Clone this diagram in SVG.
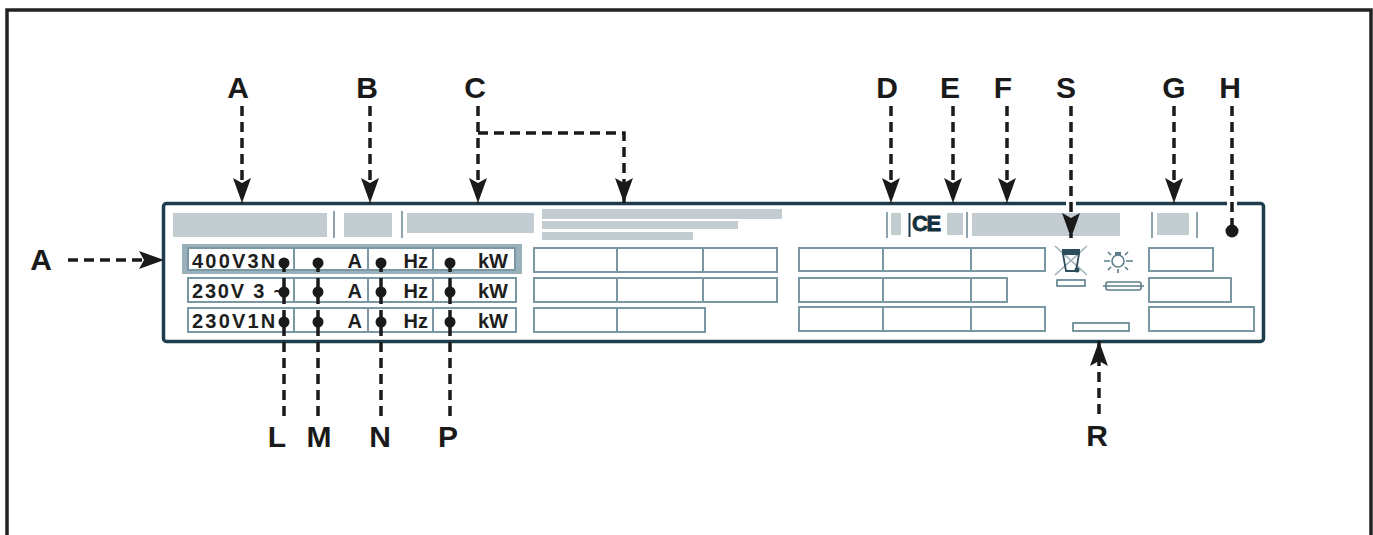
<svg xmlns="http://www.w3.org/2000/svg" width="1373" height="535" viewBox="0 0 1373 535">
<style>
.lbl{font-family:"Liberation Sans",Arial,sans-serif;font-weight:bold;font-size:30px;fill:#1a1a1a;text-anchor:middle}
.cell{font-family:"Liberation Sans",Arial,sans-serif;font-weight:bold;font-size:20px;fill:#1e1e1e}
.end{text-anchor:end}
.grid{fill:#fff;stroke:#7a98a3;stroke-width:2}
.div{stroke:#7a98a3;stroke-width:2}
.bar{fill:#c3ccd0}
.sep{stroke:#8ea3ab;stroke-width:2}
.dash{fill:none;stroke:#1a1a1a;stroke-width:3.5;stroke-dasharray:10 6}
.dot{fill:#1a1a1a}
.halo{stroke:#fff;stroke-width:10}
.ico{fill:none;stroke:#5d7d89;stroke-width:1.6}
</style>
<defs>
<marker id="arr" markerUnits="userSpaceOnUse" markerWidth="30" markerHeight="22" viewBox="-27 -11 29 22" refX="0" refY="0" orient="auto">
<path d="M0,0 L-25,-9 L-20,0 L-25,9 Z" fill="#1a1a1a"/>
</marker>
</defs>
<rect width="1373" height="535" fill="#fff"/>
<g id="frame">
<path d="M7,540 V10 H1371 V540" fill="none" stroke="#222" stroke-width="3.5"/>
</g>
<g id="plate">
<rect x="163.5" y="203.5" width="1100" height="138" rx="3" fill="#fff" stroke="#1d3d4c" stroke-width="3.5"/>
<rect class="bar" x="173" y="213" width="154" height="24"/>
<line class="sep" x1="334" y1="211" x2="334" y2="238"/>
<rect class="bar" x="344" y="213" width="48" height="24"/>
<line class="sep" x1="402" y1="211" x2="402" y2="238"/>
<rect class="bar" x="407" y="213" width="127" height="20"/>
<rect class="bar" x="542" y="209" width="240" height="10"/>
<rect class="bar" x="542" y="221" width="196" height="8"/>
<rect class="bar" x="542" y="232" width="151" height="8"/>
<line class="sep" x1="887" y1="212" x2="887" y2="238"/>
<rect class="bar" x="891" y="213" width="10" height="22"/>
<line x1="909.5" y1="213" x2="909.5" y2="237" stroke="#1d3d4c" stroke-width="2"/>
<text x="912" y="231" font-family="Liberation Sans,Arial,sans-serif" font-weight="bold" font-size="22" fill="#12303e" stroke="#12303e" stroke-width="0.8" letter-spacing="-1.5">CE</text>
<rect class="bar" x="947" y="213" width="16" height="22"/>
<line class="sep" x1="967" y1="212" x2="967" y2="238"/>
<rect class="bar" x="972" y="213" width="148" height="23"/>
<line class="sep" x1="1152" y1="212" x2="1152" y2="238"/>
<rect class="bar" x="1157" y="213" width="32" height="22"/>
<line class="sep" x1="1197" y1="212" x2="1197" y2="238"/>
</g>
<g id="rating-rows">
<rect x="182" y="244" width="340" height="30" fill="#9ab0ba"/>
<rect class="grid" x="188" y="248" width="327" height="22"/>
<line class="div" x1="294" y1="248" x2="294" y2="270"/>
<line class="div" x1="368" y1="248" x2="368" y2="270"/>
<line class="div" x1="433" y1="248" x2="433" y2="270"/>
<text class="cell" x="192" y="268" letter-spacing="2.2">400V3N</text>
<text class="cell end" x="362" y="268">A</text>
<text class="cell end" x="428" y="268">Hz</text>
<text class="cell end" x="508" y="268">kW</text>
<rect class="grid" x="188" y="278" width="328" height="24"/>
<line class="div" x1="294" y1="278" x2="294" y2="302"/>
<line class="div" x1="368" y1="278" x2="368" y2="302"/>
<line class="div" x1="433" y1="278" x2="433" y2="302"/>
<text class="cell" x="192" y="298" letter-spacing="1.8">230V 3 ~</text>
<text class="cell end" x="362" y="298">A</text>
<text class="cell end" x="428" y="298">Hz</text>
<text class="cell end" x="508" y="298">kW</text>
<rect class="grid" x="188" y="308" width="328" height="24"/>
<line class="div" x1="294" y1="308" x2="294" y2="332"/>
<line class="div" x1="368" y1="308" x2="368" y2="332"/>
<line class="div" x1="433" y1="308" x2="433" y2="332"/>
<text class="cell" x="192" y="328" letter-spacing="2.2">230V1N</text>
<text class="cell end" x="362" y="328">A</text>
<text class="cell end" x="428" y="328">Hz</text>
<text class="cell end" x="508" y="328">kW</text>
</g>
<g id="boxes-middle">
<rect class="grid" x="534" y="248" width="243" height="24"/>
<line class="div" x1="617" y1="248" x2="617" y2="272"/>
<line class="div" x1="703" y1="248" x2="703" y2="272"/>
<rect class="grid" x="534" y="278" width="243" height="24"/>
<line class="div" x1="617" y1="278" x2="617" y2="302"/>
<line class="div" x1="703" y1="278" x2="703" y2="302"/>
<rect class="grid" x="534" y="308" width="171" height="24"/>
<line class="div" x1="617" y1="308" x2="617" y2="332"/>
</g>
<g id="boxes-right">
<rect class="grid" x="799" y="248" width="246" height="23"/>
<line class="div" x1="883" y1="248" x2="883" y2="271"/>
<line class="div" x1="971" y1="248" x2="971" y2="271"/>
<rect class="grid" x="799" y="278" width="208" height="24"/>
<line class="div" x1="883" y1="278" x2="883" y2="302"/>
<line class="div" x1="971" y1="278" x2="971" y2="302"/>
<rect class="grid" x="799" y="307" width="246" height="24"/>
<line class="div" x1="883" y1="307" x2="883" y2="331"/>
<line class="div" x1="971" y1="307" x2="971" y2="331"/>
<rect class="grid" x="1149" y="248" width="64" height="23"/>
<rect class="grid" x="1149" y="278" width="82" height="24"/>
<rect class="grid" x="1149" y="307" width="105" height="24"/>
</g>
<g id="icons">
<line x1="1055" y1="246" x2="1087" y2="275" stroke="#9fb3bb" stroke-width="1.6"/>
<line x1="1087" y1="246" x2="1055" y2="275" stroke="#9fb3bb" stroke-width="1.6"/>
<rect x="1062" y="249" width="18" height="4" fill="#2d4d5b"/>
<path d="M1063,254 L1079,254 L1076,271 L1066,271 Z" fill="none" stroke="#2d4d5b" stroke-width="1.8"/>
<circle cx="1077" cy="270" r="2.5" fill="#2d4d5b"/>
<rect class="ico" x="1057" y="280" width="28" height="6"/>
<circle class="ico" cx="1118" cy="261" r="6"/>
<rect x="1115" y="252" width="6" height="3" fill="#5d7d89"/>
<path class="ico" d="M1104,261 H1110 M1126,261 H1133 M1108,252 L1111,255 M1128,252 L1125,255 M1108,270 L1111,267 M1128,270 L1125,267 M1118,269 V273"/>
<rect class="ico" x="1106" y="282" width="35" height="8" rx="2"/>
<line class="ico" x1="1103" y1="286" x2="1144" y2="286"/>
<rect class="ico" x="1073" y="323" width="56" height="8"/>
</g>
<g id="labels">
<text class="lbl" x="238" y="98">A</text>
<text class="lbl" x="367" y="98">B</text>
<text class="lbl" x="475" y="98">C</text>
<text class="lbl" x="887" y="98">D</text>
<text class="lbl" x="950" y="98">E</text>
<text class="lbl" x="1003" y="98">F</text>
<text class="lbl" x="1066" y="98">S</text>
<text class="lbl" x="1174" y="98">G</text>
<text class="lbl" x="1230" y="98">H</text>
<text class="lbl" x="41" y="270">A</text>
<text class="lbl" x="277" y="447">L</text>
<text class="lbl" x="319" y="447">M</text>
<text class="lbl" x="380" y="447">N</text>
<text class="lbl" x="448" y="447">P</text>
<text class="lbl" x="1097" y="446">R</text>
</g>
<g id="connectors">
<line class="halo" x1="1071" y1="199" x2="1071" y2="208"/>
<line class="halo" x1="1232" y1="199" x2="1232" y2="208"/>
<line class="dash" x1="242" y1="106" x2="242" y2="203" marker-end="url(#arr)"/>
<line class="dash" x1="370" y1="106" x2="370" y2="203" marker-end="url(#arr)"/>
<line class="dash" x1="478" y1="106" x2="478" y2="203" marker-end="url(#arr)"/>
<path class="dash" d="M478,133 H624 V203" marker-end="url(#arr)"/>
<line class="dash" x1="891" y1="106" x2="891" y2="203" marker-end="url(#arr)"/>
<line class="dash" x1="953" y1="106" x2="953" y2="203" marker-end="url(#arr)"/>
<line class="dash" x1="1007" y1="106" x2="1007" y2="203" marker-end="url(#arr)"/>
<line class="dash" x1="1071" y1="106" x2="1071" y2="238" marker-end="url(#arr)"/>
<line class="dash" x1="1174" y1="106" x2="1174" y2="203" marker-end="url(#arr)"/>
<line class="dash" x1="1232" y1="106" x2="1232" y2="228"/>
<circle class="dot" cx="1232" cy="231" r="6.5"/>
<line class="dash" x1="68" y1="260" x2="164" y2="260" marker-end="url(#arr)"/>
<line class="dash" x1="284" y1="262" x2="284" y2="418"/>
<line class="dash" x1="318" y1="262" x2="318" y2="418"/>
<line class="dash" x1="381" y1="262" x2="381" y2="418"/>
<line class="dash" x1="450" y1="262" x2="450" y2="418"/>
<circle class="dot" cx="284" cy="263" r="5.5"/>
<circle class="dot" cx="318" cy="263" r="5.5"/>
<circle class="dot" cx="381" cy="263" r="5.5"/>
<circle class="dot" cx="450" cy="263" r="5.5"/>
<circle class="dot" cx="284" cy="292" r="5.5"/>
<circle class="dot" cx="318" cy="292" r="5.5"/>
<circle class="dot" cx="381" cy="292" r="5.5"/>
<circle class="dot" cx="450" cy="292" r="5.5"/>
<circle class="dot" cx="284" cy="322" r="5.5"/>
<circle class="dot" cx="318" cy="322" r="5.5"/>
<circle class="dot" cx="381" cy="322" r="5.5"/>
<circle class="dot" cx="450" cy="322" r="5.5"/>
<line class="dash" x1="1099" y1="414" x2="1099" y2="341" marker-end="url(#arr)"/>
</g>
</svg>
